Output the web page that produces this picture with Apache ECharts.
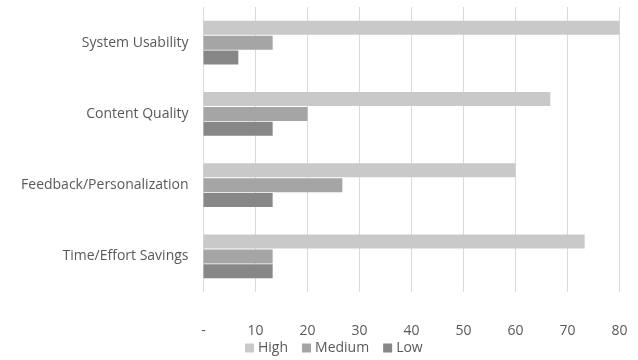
<!DOCTYPE html>
<html>
<head>
<meta charset="utf-8">
<script src="https://cdn.jsdelivr.net/npm/echarts@6/dist/echarts.min.js"></script>
<style>
  html, body { margin: 0; padding: 0; background: #fff; }
  #chart { width: 638px; height: 360px; }
</style>
</head>
<body>
<div id="chart"></div>
<script>
const categories = ['System Usability', 'Content Quality', 'Feedback/Personalization', 'Time/Effort Savings'];
const seriesNames = ['High', 'Medium', 'Low'];
const highValues = [80, 66.7, 60, 73.3];
const mediumValues = [13.3, 20, 26.7, 13.3];
const lowValues = [6.7, 13.3, 13.3, 13.3];
const colors = ['#c9c9c9', '#a5a5a5', '#878787'];

const font = 'Open Sans, Liberation Sans, sans-serif';
const textColor = '#595959';

const chart = echarts.init(document.getElementById('chart'));
chart.setOption({
    animation: false,
    grid: { left: 203.5, right: 18.5, top: 7, bottom: 68, containLabel: false },
    legend: {
        top: 341,
        left: 245,
        padding: 0,
        itemWidth: 9,
        itemHeight: 9,
        itemGap: 14,
        icon: 'rect',
        textStyle: { color: textColor, fontSize: 14, fontFamily: font, padding: [0, 0, 0, -1] },
        data: seriesNames
    },
    xAxis: {
        type: 'value',
        min: 0,
        max: 80,
        interval: 10,
        axisLine: { show: false },
        axisTick: { show: false },
        splitLine: { lineStyle: { color: '#d9d9d9', width: 1 } },
        axisLabel: {
            color: textColor,
            fontSize: 14,
            fontFamily: font,
            margin: 32,
            formatter: v => v === 0 ? '-' : v
        }
    },
    yAxis: {
        type: 'category',
        data: categories,
        inverse: true,
        axisLine: { show: false },
        axisTick: { show: false },
        axisLabel: { color: textColor, fontSize: 14, fontFamily: font, margin: 15 }
    },
    series: [
        { name: 'High', type: 'bar', data: highValues, barWidth: 14, barGap: '7%', itemStyle: { color: colors[0] } },
        { name: 'Medium', type: 'bar', data: mediumValues, barWidth: 14, barGap: '7%', itemStyle: { color: colors[1] } },
        { name: 'Low', type: 'bar', data: lowValues, barWidth: 14, barGap: '7%', itemStyle: { color: colors[2] } }
    ]
});
</script>
</body>
</html>
